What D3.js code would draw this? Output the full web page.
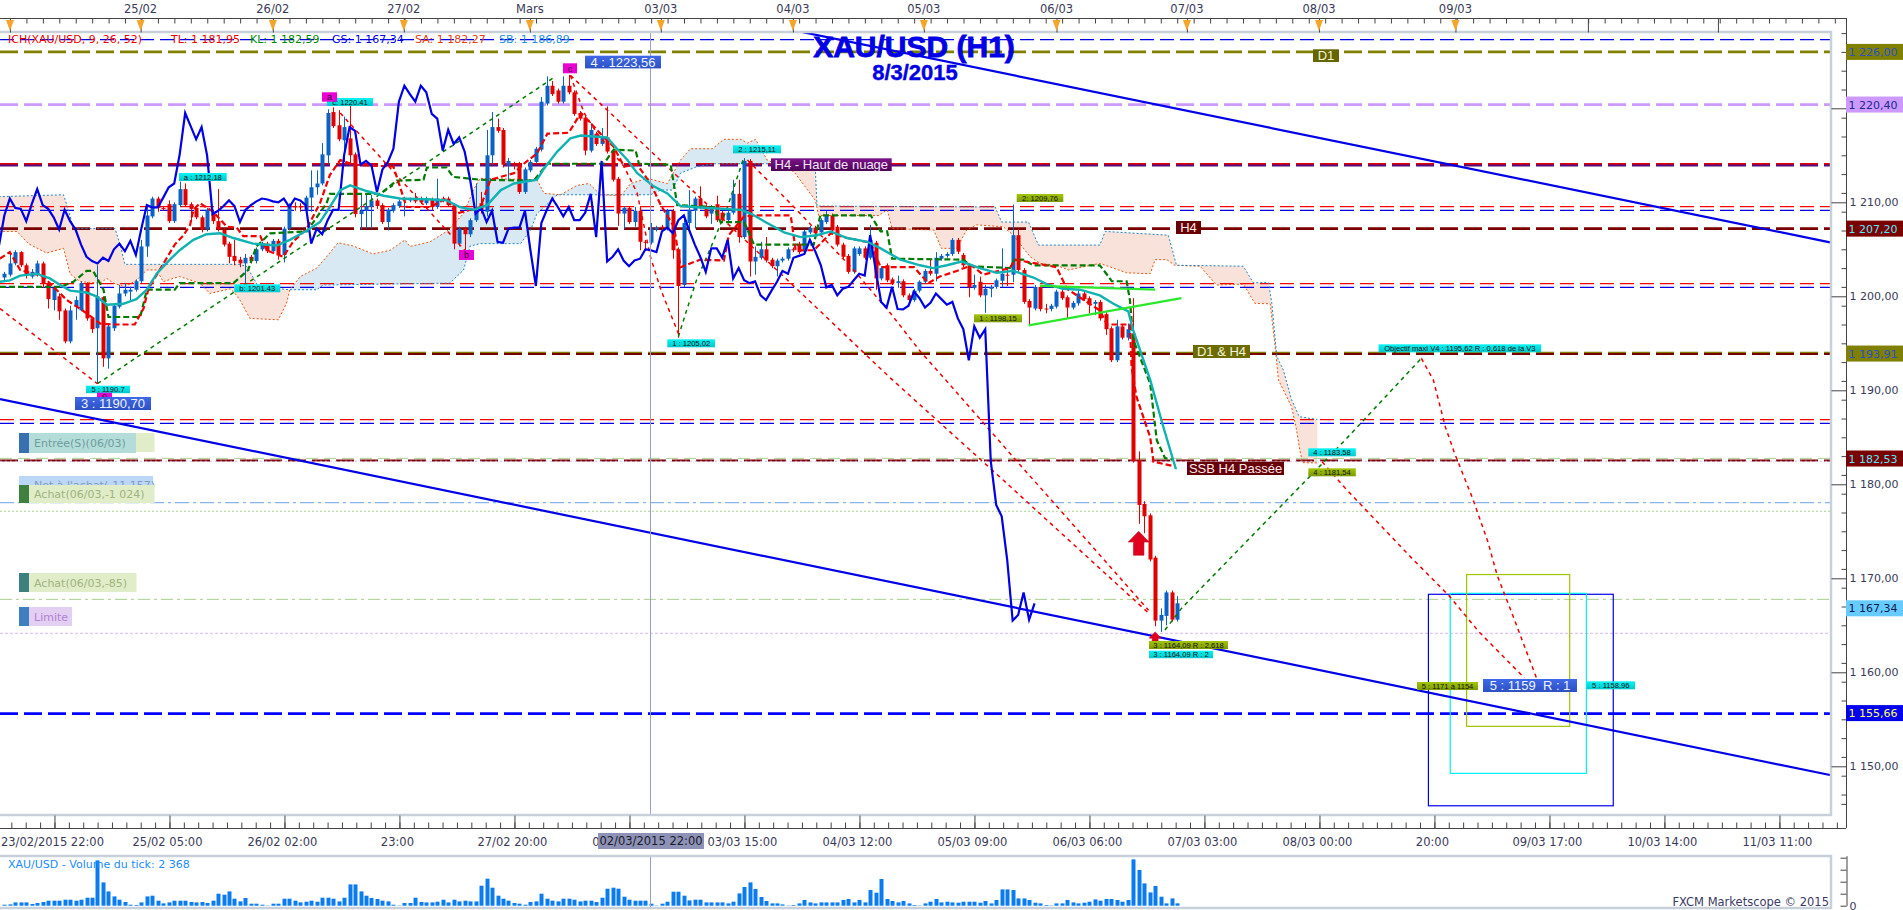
<!DOCTYPE html>
<html><head><meta charset="utf-8">
<script src="https://cdnjs.cloudflare.com/ajax/libs/d3/7.8.5/d3.min.js"></script>
<style>html,body{margin:0;padding:0;background:#fff;overflow:hidden}svg{display:block;position:absolute;left:0;top:0}</style>
</head><body><svg id="c" width="1903" height="910"></svg>
<script>
// ---------- DATA (one entry per hourly bar, index 0..214) ----------
const opens=[1202,1202.3,1203.5,1204.7,1203.3,1202.1,1202.3,1203.5,1201.4,1199.6,
1200,1198.5,1195.2,1198.9,1198.5,1201.4,1197.65,1196.6,1199.9,1193.4,
1196.6,1198.9,1200.3,1200.5,1200.7,1201.6,1205.3,1208.5,1210.4,1209.4,
1209.8,1208,1209.7,1211.4,1209.8,1209.4,1208.4,1207.1,1208.8,1208,
1207.1,1205.6,1204.3,1203.9,1203.5,1204.2,1203.75,1205,1205.6,1204.8,
1205.9,1204.4,1207.2,1209.6,1209.6,1209.1,1210.5,1211.6,1212,1215,
1219.6,1218.2,1216.6,1216.8,1215.1,1208.75,1209.1,1209.5,1210.2,1209.7,
1207.9,1209.1,1209.6,1210.2,1210.2,1210.4,1210.4,1209.9,1210.3,1209.5,
1210.4,1210.4,1209.7,1205.6,1207.2,1206.6,1208.1,1209.9,1209,1215,
1218,1217.7,1213.9,1214,1214.1,1211.1,1213.4,1214.3,1215.6,1220.5,
1222.4,1221.9,1220.7,1222.4,1221.7,1219.5,1219,1215.5,1217.3,1216.2,
1216.9,1215.5,1212.5,1208.8,1209.4,1207.9,1209.1,1205.8,1205.7,1207.1,
1207.4,1207.2,1209.1,1205,1201.2,1207.8,1209.1,1210.4,1209.5,1208.8,
1209.8,1208.9,1208.1,1208.9,1210.9,1206.3,1214.4,1203.7,1204.1,1205,
1203.9,1203.2,1203.8,1204,1205,1205.6,1204.75,1206.8,1207.3,1206.8,
1207.9,1208.6,1207.4,1205.5,1204.3,1202.6,1204.5,1205.1,1204.1,1205.7,
1201.9,1203.3,1201.8,1201.4,1201.6,1200.1,1199.6,1200.6,1201.55,1202.7,
1202.4,1204,1204.3,1204.5,1206,1204.4,1203.3,1200.9,1201.55,1200.1,
1200.8,1201,1201.65,1202.3,1202.3,1206.5,1202.8,1199.5,1198.7,1201,
1198.7,1198.65,1198.9,1200.5,1199.9,1198.8,1199.25,1200.3,1199.8,1199.2,
1199.4,1198.1,1196.6,1193.2,1196.8,1195.6,1196.05,1182.5,1177.9,1176.7,
1172.2,1165.5,1166,1168.5,1165.6];
const closes=[1202.4,1203.5,1204.7,1203.3,1202.2,1202.6,1203.5,1201.4,1199.7,1200.9,
1198.4,1195.2,1198.5,1199.6,1201.4,1197.65,1196.5,1200,1193.4,1196.8,
1199,1200.3,1200.7,1200.7,1201.6,1205.3,1208.6,1210.4,1209.4,1209.3,
1208,1209.8,1211.4,1209.7,1209.3,1208.4,1207.1,1209.2,1208,1207.1,
1205.5,1204.2,1203.75,1203.5,1204.1,1203.75,1205,1205.6,1204.8,1205.9,
1204.4,1207.2,1209.7,1209.45,1209.45,1210.5,1211.6,1212,1215.1,1219.5,
1218.1,1216.7,1218,1215,1208.75,1209.1,1209.6,1210.2,1209.6,1207.9,
1209.2,1209.7,1210.1,1210.4,1210.3,1210.1,1210,1210.4,1209.5,1210.4,
1210.2,1209.7,1205.6,1207.2,1206.6,1208.1,1209.2,1209.2,1215,1218,
1217.6,1214,1214.4,1213.9,1211.1,1213.5,1214.3,1215.7,1220.7,1222.4,
1221.5,1220.7,1222.4,1221.7,1219.4,1218.9,1215.5,1217.7,1216.2,1216.9,
1215.4,1212.4,1208.8,1209.4,1207.9,1209.1,1205.8,1205.7,1207.2,1207.3,
1207.3,1209.1,1204.9,1201.1,1207.8,1209.2,1210.4,1209.5,1208.5,1209.5,
1208.1,1208.1,1208.9,1210.9,1206.3,1214.4,1203.7,1204.2,1205,1203.8,
1203.2,1203.8,1204,1205,1204.9,1204.7,1206.9,1207.3,1206.7,1208.1,
1208.6,1207,1205.5,1204.2,1202.6,1205.1,1205.1,1204.1,1206,1201.9,
1203,1201.7,1201.4,1201.6,1200.1,1199.6,1200.6,1201.55,1202.7,1202.4,
1204.1,1204.3,1204.5,1206,1204.75,1203.3,1200.95,1201.2,1200.1,1200.8,
1201,1201.7,1202.4,1202.2,1206.5,1202.8,1199.4,1198.8,1201,1198.65,
1198.6,1199,1200.5,1199.8,1198.8,1199.3,1200.3,1199.7,1199.1,1199.4,
1197.65,1196.5,1193.2,1196.8,1195.6,1196.5,1182.5,1177.8,1176.6,1172,
1165.5,1166.1,1168.5,1165.6,1167.34];
const highs=[1202.6,1204.6,1204.9,1204.8,1203.5,1202.9,1203.8,1203.7,1201.6,1201,
1200.3,1198.7,1199,1200,1201.6,1201.5,1197.8,1203.3,1200,1197,
1199.2,1201.2,1201.4,1201,1201.8,1206,1209.5,1210.6,1210.6,1209.6,
1210.2,1210,1212.2,1212,1210,1209.6,1208.6,1209.4,1209,1211.4,
1207.3,1205.8,1206,1204.2,1204.5,1204.4,1205.2,1205.8,1205.8,1206.1,
1206.1,1207.4,1209.9,1210,1209.9,1210.7,1213.4,1213.4,1216.3,1219.9,
1220.1,1219.8,1219.1,1220.4,1215.3,1210.8,1210.9,1210.8,1210.4,1209.9,
1209.4,1209.9,1210.3,1210.6,1210.5,1211,1210.6,1210.6,1210.5,1212.5,
1210.6,1210.6,1209.9,1207.4,1207.4,1208.3,1212,1211.1,1217.7,1219.6,
1218.9,1217.9,1214.7,1214.3,1214.3,1213.7,1214.5,1215.9,1221.2,1223.4,
1222.9,1222.1,1223.4,1223.56,1221.9,1219.7,1219.2,1218.4,1217.5,1217.9,
1220.2,1215.7,1212.7,1209.6,1209.6,1209.5,1209.5,1206,1207.8,1207.5,
1207.6,1209.3,1209.3,1205.2,1208.5,1211.3,1210.6,1211.7,1209.7,1209.7,
1210.7,1209.1,1209.1,1212.4,1212.4,1214.7,1214.6,1205.3,1205.8,1206.3,
1204.1,1204,1204.2,1205.2,1205.2,1205.8,1207.1,1207.5,1207.5,1208.3,
1209.1,1208.8,1207.6,1205.7,1204.5,1205.3,1205.3,1205.3,1207.6,1205.9,
1203.2,1203.5,1202,1202.2,1201.8,1200.3,1200.8,1201.7,1202.9,1203.9,
1204.7,1204.5,1204.7,1206.2,1206.2,1204.6,1203.5,1202.3,1202.1,1201.2,
1201.2,1201.9,1205.1,1203.1,1209.76,1207.2,1203,1199.7,1201.2,1201.2,
1199.2,1199.2,1200.7,1200.7,1200.1,1199.5,1200.8,1200.5,1200,1199.6,
1199.6,1198.3,1196.8,1197.5,1197,1197.1,1199.8,1183.5,1178.2,1176.9,
1172.4,1166.8,1168.7,1168.7,1168.1];
const lows=[1201.7,1202.1,1203.3,1203.1,1201.9,1201.9,1202.1,1200.9,1198.7,1198.5,
1197.5,1195,1195,1197.5,1198.4,1197.4,1196.1,1190.7,1192.5,1192.3,
1196.3,1198.7,1200,1199.6,1200.5,1201.4,1204.2,1208.3,1209,1209.1,
1207.8,1207.8,1209.5,1209.5,1208,1208.2,1206.8,1206.9,1207.7,1206.9,
1205.3,1203.5,1203.3,1203.1,1201.4,1203.5,1203.5,1204.8,1204.6,1204.6,
1203.9,1203.6,1207,1209.1,1209,1208.9,1209,1210.8,1211.8,1214,
1217.9,1216.5,1214.3,1214.1,1208.4,1207.1,1207.2,1207.2,1209.3,1207.7,
1207,1208.9,1209.4,1208.5,1210,1209.9,1209.8,1209.7,1209.1,1209.3,
1210,1209.5,1205,1205.3,1204.9,1206.3,1207.9,1208.8,1208.5,1214,
1217.4,1213.7,1212.4,1213.5,1210.9,1210.9,1213.2,1214.1,1215.4,1220.3,
1221.3,1220.5,1220.5,1221.5,1219.2,1218.7,1215,1215.3,1216,1216,
1215.2,1212.2,1207.5,1207.2,1207.7,1207.4,1204.9,1204.9,1205.5,1206.9,
1207.1,1207,1204,1195.6,1201,1207.2,1207.2,1209.3,1208.3,1207.7,
1207.9,1207.9,1207.9,1208.7,1205.7,1206.1,1202.1,1202.3,1203.9,1203.6,
1203,1202.1,1203.6,1203.8,1204.7,1204.5,1204.5,1206.6,1206.5,1206.6,
1207.7,1206.8,1205.3,1204,1202.4,1202.4,1204.3,1203.9,1203.9,1200.7,
1201.7,1201.5,1201.2,1200.9,1199.9,1199.4,1199.4,1200.4,1201.3,1202.2,
1201.6,1203.8,1204.1,1204.3,1204.5,1203.1,1199.9,1200.7,1199.9,1198.25,
1199.9,1200.8,1201,1201.1,1201.5,1202.6,1199.2,1196.9,1198.5,1198.4,
1198.2,1198.4,1198.7,1199.6,1197.6,1198.6,1199,1199.5,1198.2,1198,
1197.4,1195.9,1193,1193,1195.4,1195.3,1182.3,1175.8,1174.8,1171.8,
1164.9,1164.3,1165,1165.4,1165.4];
const volumes=[1000,1300,3300,3300,3300,1700,2700,3700,5000,5000,
5000,6000,6000,5000,6000,8000,8000,45300,23300,14300,
9300,6000,3700,1000,700,3300,9300,10000,5000,2300,
3300,5000,5000,5000,3700,3300,3700,2700,5000,12000,
11000,14300,7000,4300,7700,2000,2000,1000,300,2000,
2000,7000,7000,5000,3300,4000,5000,4000,8000,8000,
7000,4300,8000,21300,21300,14300,10000,7700,6700,5000,
4300,1000,300,2700,2700,8000,3700,3300,3300,4000,
6000,3300,6000,4300,5000,4300,4300,20000,27000,18000,
10000,7000,5000,2700,2000,1000,3700,4300,12000,7000,
5000,4300,7000,7000,6000,4300,5000,5000,3700,8000,
17000,18000,17000,9000,6000,5000,5000,5000,2000,300,
2000,4000,14000,14000,10000,5300,6000,6000,
3300,3300,3300,3300,2300,4000,12300,18700,23300,16700,
8700,4700,2300,2300,1300,300,700,2300,5700,3300,
2300,3300,3300,3300,3300,5700,6700,3300,5700,3300,
15700,13000,26700,6700,4700,3300,4700,2300,700,300,
2300,4000,6700,3300,4000,
3300,3000,4000,4000,4000,3000,4700,2300,5700,16300,
16300,15700,7300,7300,5700,3000,2300,700,300,2300,
2300,5700,3300,2300,3000,4000,6300,5000,6700,6700,
5700,4000,5700,46300,35700,22300,13300,19700,9000,2300,7300,2368];
// lagging line: first value belongs to bar -1
const chikou=[1205.3,1208.6,1210.4,1209.4,1209.3,1208,1209.8,1211.4,1209.7,1209.3,
1208.4,1207.1,1209.2,1208,1207.1,1205.5,1204.2,1203.75,1203.5,1204.1,
1203.75,1205,1205.6,1204.8,1205.9,1204.4,1207.2,1209.7,1209.45,1209.45,
1210.5,1211.6,1212,1215.1,1219.5,1218.1,1216.7,1218,1215,1208.75,
1209.1,1209.6,1210.2,1209.6,1207.9,1209.2,1209.7,1210.1,1210.4,1210.3,
1210.1,1210,1210.4,1209.5,1210.4,1210.2,1209.7,1205.6,1207.2,1206.6,
1208.1,1209.2,1209.2,1215,1218,1217.6,1214,1214.4,1213.9,1211.1,
1213.5,1214.3,1215.7,1220.7,1222.4,1221.5,1220.7,1222.4,1221.7,1219.4,
1218.9,1215.5,1217.7,1216.2,1216.9,1215.4,1212.4,1208.8,1209.4,1207.9,
1209.1,1205.8,1205.7,1207.2,1207.3,1207.3,1209.1,1204.9,1201.1,1207.8,
1209.2,1210.4,1209.5,1208.5,1209.5,1208.1,1208.1,1208.9,1210.9,1206.3,
1214.4,1203.7,1204.2,1205,1203.8,1203.2,1203.8,1204,1205,1204.9,
1204.7,1206.9,1207.3,1206.7,1208.1,1208.6,1207,1205.5,1204.2,1202.6,
1205.1,1205.1,1204.1,1206,1201.9,1203,1201.7,1201.4,1201.6,1200.1,
1199.6,1200.6,1201.55,1202.7,1202.4,1204.1,1204.3,1204.5,1206,1204.75,
1203.3,1200.95,1201.2,1200.1,1200.8,1201,1201.7,1202.4,1202.2,1206.5,
1202.8,1199.4,1198.8,1201,1198.65,1198.6,1199,1200.5,1199.8,1198.8,
1199.3,1200.3,1199.7,1199.1,1199.4,1197.65,1196.5,1193.2,1196.8,1195.6,
1196.5,1182.5,1177.8,1176.6,1172,1165.5,1166.1,1168.5,1165.6,1167.34];
// [bar, price] series
const average=[[-0.8,1201.55],[1,1201.7],[2.9,1202.2],[5.9,1202.4],[8.3,1201.9],[10.2,1201.2],[12,1200.6],[15,1200.4],[16.8,1200],[18.7,1199.1],[21.7,1199.2],[24.1,1199.7],[26,1200.7],[27.8,1202.4],[30.2,1203.9],[32,1204.9],[34.5,1206],[36.9,1206.6],[39.4,1206.7],[41.8,1206.2],[45.4,1205.6],[49.7,1205.4],[52.1,1206],[55.2,1207],[57.6,1207.9],[59.4,1209.5],[61.3,1211.3],[63.1,1211.8],[66.1,1211.2],[69.2,1210.7],[72.2,1210.4],[78.3,1210.3],[80.7,1210.2],[83.1,1209.5],[85.6,1209.2],[88.1,1209.7],[90.6,1211.3],[93,1212],[97.2,1212.4],[98.5,1213.6],[100.9,1215.4],[103.3,1216.8],[105.2,1217.1],[110,1216.9],[111.8,1215.7],[113.7,1214.5],[115.5,1213.1],[118.5,1211.7],[121,1210.95],[123.4,1209.6],[128.3,1209.4],[134.4,1209.2],[136.2,1208.8],[139.2,1207.8],[142.3,1206.8],[145.3,1206.3],[148.3,1206.5],[150.8,1206.9],[153.8,1206.2],[157.5,1205.8],[159.9,1205.1],[163.5,1203.9],[167.1,1203.3],[169.5,1203],[172,1203.3],[174.7,1203.7],[178,1203],[181.1,1202.5],[184.1,1202.7],[187.8,1202],[190.2,1201.3],[193.2,1200.8],[196.3,1200.7],[199.9,1200.1],[202.4,1199.2],[205.1,1198.4],[206,1196.4],[209.1,1191.1],[211.5,1186.1],[213.8,1181.6]];
const tenkan=[[-0.8,1204],[1,1204.7],[2.9,1202.8],[5.3,1202.4],[7.1,1202.1],[9.5,1200.7],[11.4,1199.6],[15,1198.2],[17.5,1197.1],[19.9,1197],[23.8,1197],[25.4,1198.7],[26.3,1200.8],[31.1,1205.5],[32.7,1206.5],[33.9,1207.6],[34.5,1209.2],[35.7,1209.9],[38.1,1209],[40.6,1207.4],[42.4,1207.3],[43.6,1206.4],[46.7,1206.4],[47.9,1204.9],[50.9,1204.2],[52.7,1205.8],[55.2,1207.2],[57.6,1209.9],[59.4,1212.9],[61.3,1214.5],[63.7,1214],[71,1213.8],[73.4,1209.5],[77.7,1209.5],[80.7,1210.4],[82.5,1208.8],[86.9,1209.5],[88.7,1212.4],[93,1213.1],[94.8,1214.1],[97.2,1215.2],[99.1,1217.3],[103,1217.4],[105.2,1219.5],[108.8,1217.3],[111.2,1215.9],[113.1,1213.8],[115.5,1214],[117.9,1212],[119.8,1209.7],[122.2,1207.4],[123.4,1203.1],[127,1203.9],[131.3,1203.8],[132.2,1206.5],[135,1208.5],[137.4,1208.6],[143.5,1208.6],[144.4,1204.9],[147.7,1204.9],[150.8,1206.7],[153.8,1206.2],[158.1,1205.7],[159.9,1203.1],[166,1203.1],[168.6,1201.4],[170.7,1202.1],[173.8,1202.7],[176.5,1203.3],[178.6,1202.3],[183.5,1203],[184.4,1203.9],[192,1203.1],[193.9,1200.8],[197.5,1199.4],[199.9,1198.5],[201.2,1197],[205.4,1197],[205.7,1192.5],[206.6,1189.3],[209.1,1185],[209.7,1182.4],[213.3,1181.95]];
const kijun=[[-0.8,1201],[10.2,1201],[12.6,1201.55],[15,1202.7],[16.2,1202.7],[18.1,1200.7],[19,1197.8],[24.8,1197.8],[26,1200.7],[31.1,1200.7],[32,1201.4],[41.8,1201.4],[44.5,1202.8],[46,1205.3],[48.5,1206.7],[55.2,1206.9],[58.8,1209.9],[59.4,1210.9],[68.6,1210.9],[71.6,1212.3],[76.5,1212.4],[77.1,1213.7],[80.7,1213.7],[81.9,1212.7],[86.9,1212.4],[96.6,1212.3],[99.1,1214.1],[109.4,1214.1],[111.2,1215.6],[115.2,1215.5],[115.8,1214.1],[121.6,1214],[122.8,1209.7],[129.5,1209.5],[130.7,1207.9],[135,1207.9],[136.8,1205.5],[147.7,1205.5],[148.9,1208.6],[158.1,1208.6],[159.9,1206.9],[161.1,1206.9],[162,1204],[175,1203.9],[176.5,1203.2],[183.5,1203],[184.4,1203.9],[185.9,1203.9],[187.8,1203.3],[199.9,1203.3],[201.5,1202.1],[202.1,1201.6],[204.8,1201.6],[205.4,1199.6],[206,1195.4],[209.1,1190.7],[210.3,1184.7],[211.8,1182.8],[213.3,1182.6]];
const spanA=[[-1,1206.9],[2.3,1206.9],[4.4,1205.6],[7.7,1204.6],[10.8,1205.1],[12,1202.4],[13.8,1201.55],[17.5,1201.4],[18.7,1201.9],[19.9,1201.4],[22,1201],[24.1,1201.7],[26,1202.8],[27.8,1202.8],[29,1201.55],[30.8,1201.9],[32,1202.1],[35.7,1201.4],[37.5,1200.3],[41.2,1200.8],[42.1,1200.3],[43,1199.6],[44.8,1197.65],[50,1197.5],[51.5,1199.25],[52.1,1200.7],[54,1202.1],[57,1203],[58.8,1204.2],[60.9,1205.7],[63.7,1205.35],[67.3,1204.5],[70.4,1204.9],[73.1,1206],[74,1205.3],[77.7,1205.8],[80.7,1206.9],[83.8,1208.8],[85.6,1211.3],[86.8,1212.55],[97.2,1212.4],[98.5,1210.95],[101.5,1210.8],[104.5,1211.8],[106.7,1212],[108.8,1210.8],[112.5,1210.7],[114.3,1212],[117.3,1212.55],[121,1212],[123.4,1214.5],[125.2,1215.7],[129.2,1215.7],[131.3,1216.7],[134.4,1216.7],[135.6,1216.3],[137.1,1216.7],[139.2,1214.5],[144.1,1213.25],[148,1210.2],[148.6,1208.6],[158.1,1208.6],[159.6,1208.6],[161.1,1209.2],[162,1207.2],[169.6,1207.05],[171,1205.1],[173.8,1205.1],[175.6,1207.05],[177.4,1207.6],[182.3,1207.4],[184.1,1206.5],[187.2,1204.2],[189,1203.5],[192,1203.3],[194.2,1202.8],[199.9,1203.5],[204.8,1202.5],[209.1,1202.4],[210,1203.9],[212.1,1203.9],[213.6,1203.3],[218.2,1203.2],[221.2,1201.2],[226.1,1201.3],[228.2,1199.25],[231,1199.2],[231.9,1194.6],[232.5,1191.1],[234.9,1188.25],[235.8,1185.8],[236.4,1183.65],[236.9,1182.3],[239.6,1182.27]];
const spanB=[[-1,1210.6],[10.8,1210.8],[11.7,1209.2],[12.6,1207.2],[20.2,1207.2],[21.1,1205.6],[22,1203.4],[42.7,1203.4],[44.2,1203.2],[46.4,1201],[52.1,1200.7],[57,1200.7],[58.2,1201.2],[81.3,1201.4],[83.8,1202.8],[85,1205.35],[86.8,1205.6],[94.2,1205.6],[96,1207],[97.2,1208.8],[98.5,1209.5],[100.9,1210.8],[117.9,1210.8],[119.8,1211.3],[121.9,1211.3],[123.4,1213.1],[126.4,1213.8],[129.5,1214.1],[144.1,1214.1],[148,1213.4],[148.3,1209.6],[180.8,1209.5],[182,1207.9],[186.9,1207.9],[188.7,1205.45],[199.9,1205.45],[200.9,1206.9],[212.4,1206.5],[213.9,1203.3],[226.1,1203.2],[227.9,1201.45],[230.7,1201.45],[231.3,1199.25],[232.2,1193.6],[233.4,1192.15],[234.9,1189],[236.3,1187.2],[239.6,1186.89]];
const greenWaves=[
 [[17,1190.7],[100.6,1223.4]],
 [[123,1195.7],[124.5,1198.5],[126.3,1201.7],[128.7,1204.9],[131.8,1209.2],[134.8,1214.5]],
 [[211.8,1164.5],[214.8,1166.8],[238,1180.7],[244.66,1184.7],[258.58,1193.4]]];
const redWaves=[
 [[-0.8,1198.7],[17,1190.7]],
 [[61.3,1219.5],[84,1204.9]],
 [[103.3,1223.5],[105.8,1219.5],[108.2,1217.3],[113.1,1213.8],[115.5,1210.95],[117.9,1204.2],[119.8,1200.7],[123.1,1195.9]],
 [[103.3,1223.5],[143.5,1201.4],[161.7,1191.3],[182,1180.6],[208.8,1166.3]],
 [[135.6,1214.5],[144.1,1209.5],[155,1202.8],[161.7,1198.2],[167.2,1194.1],[171.5,1191.3],[183.5,1183.3],[208.8,1166.6]],
 [[240.47,1182.4],[244.66,1179.6],[256.9,1172.1],[263.55,1168.2],[269.1,1164.3],[277.39,1159.4]],
 [[258.58,1193.4],[260.77,1191.1],[262.96,1186.1],[264.65,1183.3],[267.93,1178.5],[270.72,1173.9],[272.4,1170.35],[275.7,1165.4],[279.58,1159.4]]];
const channelLines=[[[-0.8,1189.07],[333.15,1149.07]],[[145.7,1228.1],[333.15,1205.74]]];
const limeLines=[[[186.9,1196.9],[214.8,1199.8]],[[189,1201.1],[210,1200.7]]];
const boxes=[[259.87,293.6,1168.3,1145.8],[263.85,288.7,1168.4,1149.25],[266.84,285.65,1170.4,1154.25]];
const arrowBars=[207,210], arrowPrices=[1175,1164.3];
const levelPrices=[1227.3,1226,1220.4,1213.98,1214.1,1209.53,1209.14,1207.2,1201.34,1200.95,1193.96,1193.86,1186.87,1186.48,1182.53,1182.76,1182.45,1178.05,1177.13,1167.76,1164.15,1155.6];
const priceTicks=[1150,1160,1170,1180,1190,1200,1210,1220];
const priceLabels=["1 150,00","1 160,00","1 170,00","1 180,00","1 190,00","1 200,00","1 210,00",""];
const priceMinorTicks=[1146,1147,1149,1151,1153,1155,1157,1159,1161,1163,1165,1167,1169,1171,1173,1175,1177,1179,1181,1183,1185,1187,1189,1191,1193,1195,1197,1199,1201,1203,1205,1207,1209,1211,1213,1215,1217,1219,1222,1224,1226,1228];
const dayBars=[1.03,24.87,49,72.9,95.9,119.8,143.9,167.8,192,215.8,239.9,264.8,288.97,312.7];
const dayLabels=["","25/02","26/02","27/02","Mars","03/03","04/03","05/03","06/03","07/03","08/03","09/03","",""];
const timeBars=[9.15,30.14,51.12,72.1,93.09,114.08,135.06,156.05,177.03,198.02,219,239.99,260.97,281.96,302.94,323.93];
const timeLabels=["23/02/2015 22:00","25/02 05:00","26/02 02:00","23:00","27/02 20:00","0","03/03 15:00","04/03 12:00","05/03 09:00","06/03 06:00","07/03 03:00","08/03 00:00","20:00","09/03 17:00","10/03 14:00","11/03 11:00"];
const legendTexts=["ICH(XAU/USD, 9, 26, 52)","TL: 1 181,95","KL: 1 182,59","GS: 1 167,34","SA: 1 182,27","SB: 1 186,89"];

// ---------- SCALES ----------
const svg=d3.select("#c");
const x=d3.scaleLinear().domain([0,214]).range([4.33,1177.05]);
const y=d3.scaleLinear().domain([1210,1150]).range([202.3,766.3]);
const vy=d3.scaleLinear().domain([0,50000]).range([905.7,855.7]);
const FW=1831,AX=1846;
const defs=svg.append("defs");
defs.append("clipPath").attr("id","plot").append("rect").attr("x",0).attr("y",32).attr("width",FW).attr("height",783);
[["gCyan","#08f4f4","#00c8cc"],["gGrn","#a4c608","#7c9a00"],["gRoy","#4069e8","#2c50c4"],["gDk","#7a1488","#4e0458"]].forEach(a=>{
 const lg=defs.append("linearGradient").attr("id",a[0]).attr("x1",0).attr("x2",0).attr("y1",0).attr("y2",1);
 lg.append("stop").attr("offset","0").attr("stop-color",a[1]);
 lg.append("stop").attr("offset","1").attr("stop-color",a[2]);
});
const g=svg.append("g").attr("clip-path","url(#plot)");
const line=d3.line().x(d=>x(d[0])).y(d=>y(d[1]));

// ---------- CLOUD ----------
const aAt=d3.scaleLinear().domain(spanA.map(d=>d[0])).range(spanA.map(d=>d[1]));
const bAt=d3.scaleLinear().domain(spanB.map(d=>d[0])).range(spanB.map(d=>d[1]));
const steps=d3.range(-1,239.61,0.2);
g.append("path").datum(steps).attr("fill","#d9e9f3")
 .attr("d",d3.area().x(d=>x(d)).y0(d=>y(aAt(d))).y1(d=>y(Math.min(aAt(d),bAt(d)))));
g.append("path").datum(steps).attr("fill","#f8e2da")
 .attr("d",d3.area().x(d=>x(d)).y0(d=>y(aAt(d))).y1(d=>y(Math.max(aAt(d),bAt(d)))));

// ---------- LEVELS ----------
const levelStyles=[["#0000e6",1.3,"14 6"],["#808000",2.8,"18 6"],["#cc99ff",2.8,"18 6"],["#5a0a80",3.2,"18 6"],["#e00000",1.3,"18 6"],["#ff0000",1.2,"14 6"],["#0000e6",1.2,"14 6"],["#7a0000",2.8,"18 6"],["#ff0000",1.2,"14 6"],["#0000e6",1.2,"14 6"],["#808000",2.6,"18 6"],["#7a0000",2.2,"18 6"],["#ff0000",1.2,"14 6"],["#0000e6",1.2,"14 6"],["#7a0000",2.2,"18 6"],["#a8d08d",1,"12 6"],["#d8b8ee",1,"2 3"],["#88b4f0",1.2,"14 4 3 4"],["#a8d08d",1,"2 2"],["#a8d08d",1,"12 4 3 4"],["#d8b8ee",1,"3 2"],["#0000ff",2.8,"18 6"]];
g.selectAll("line.lv").data(levelPrices).join("line").attr("class","lv")
 .attr("x1",0).attr("x2",FW).attr("y1",d=>y(d)).attr("y2",d=>y(d))
 .attr("stroke",(d,i)=>levelStyles[i][0]).attr("stroke-width",(d,i)=>levelStyles[i][1]).attr("stroke-dasharray",(d,i)=>levelStyles[i][2]);

// ---------- CLOUD EDGES ----------
g.append("path").datum(spanA).attr("d",line).attr("fill","none").attr("stroke","#e8560f").attr("stroke-width",1).attr("stroke-dasharray","2 2");
g.append("path").datum(spanB).attr("d",line).attr("fill","none").attr("stroke","#1f86c4").attr("stroke-width",1).attr("stroke-dasharray","2 2");

// ---------- BOXES ----------
const boxColors=["#0000f0","#00f0f8","#a0c400"];
g.selectAll("rect.box").data(boxes).join("rect").attr("class","box")
 .attr("x",d=>x(d[0])).attr("width",d=>x(d[1])-x(d[0])).attr("y",d=>y(d[2])).attr("height",d=>y(d[3])-y(d[2]))
 .attr("fill","none").attr("stroke",(d,i)=>boxColors[i]).attr("stroke-width",1.2);

// ---------- CANDLES ----------
const idx=d3.range(opens.length);
const cCol=i=>closes[i]>=opens[i]?"#0a62c6":"#e00000";
g.selectAll("line.w").data(idx).join("line").attr("class","w")
 .attr("x1",i=>Math.round(x(i))+.5).attr("x2",i=>Math.round(x(i))+.5).attr("y1",i=>y(highs[i])).attr("y2",i=>y(lows[i]))
 .attr("stroke",cCol).attr("stroke-width",1);
g.selectAll("rect.b").data(idx).join("rect").attr("class","b")
 .attr("x",i=>Math.round(x(i))-1.5).attr("width",4)
 .attr("y",i=>y(Math.max(opens[i],closes[i])))
 .attr("height",i=>Math.max(1,Math.abs(y(opens[i])-y(closes[i]))))
 .attr("fill",cCol);

// ---------- WAVES ----------
greenWaves.forEach(w=>g.append("path").datum(w).attr("d",line).attr("fill","none").attr("stroke","#007a00").attr("stroke-width",1.5).attr("stroke-dasharray","4 4"));
redWaves.forEach(w=>g.append("path").datum(w).attr("d",line).attr("fill","none").attr("stroke","#f00000").attr("stroke-width",1.5).attr("stroke-dasharray","4 4"));

// ---------- INDICATOR LINES ----------
const chikouPts=chikou.map((p,i)=>[i-1,p]);
g.append("path").datum(kijun).attr("d",line).attr("fill","none").attr("stroke","#007a00").attr("stroke-width",2.2).attr("stroke-dasharray","6 3");
g.append("path").datum(tenkan).attr("d",line).attr("fill","none").attr("stroke","#f00000").attr("stroke-width",2.2).attr("stroke-dasharray","6 3");
g.append("path").datum(chikouPts).attr("d",line).attr("fill","none").attr("stroke","#0000e6").attr("stroke-width",2.2);
g.append("path").datum(average).attr("d",line).attr("fill","none").attr("stroke","#10b2b2").attr("stroke-width",2.4);
limeLines.forEach(w=>g.append("path").datum(w).attr("d",line).attr("fill","none").attr("stroke","#2ce82c").attr("stroke-width",2.2));
channelLines.forEach(w=>g.append("path").datum(w).attr("d",line).attr("fill","none").attr("stroke","#0000e6").attr("stroke-width",2.2));

// ---------- ARROWS ----------
const arrowSizes=[[21,24],[12,14]];
arrowBars.forEach((b,i)=>{
 const cx=x(b),ty=y(arrowPrices[i]),[w,h]=arrowSizes[i];
 g.append("path").attr("fill","#e0001e").attr("stroke","#b80018").attr("stroke-width",.5)
  .attr("d",`M${cx},${ty}L${cx+w/2},${ty+h*.45}L${cx+w/4},${ty+h*.45}L${cx+w/4},${ty+h}L${cx-w/4},${ty+h}L${cx-w/4},${ty+h*.45}L${cx-w/2},${ty+h*.45}Z`);
});

// ---------- CROSSHAIR ----------
svg.append("line").attr("x1",650.5).attr("x2",650.5).attr("y1",32).attr("y2",815).attr("stroke","#9aa0c2").attr("stroke-width",1);

// ---------- FRAMES ----------
const frame="#c8d1d9";
svg.append("path").attr("d",`M0,32H${FW}V815H0`).attr("fill","none").attr("stroke",frame).attr("stroke-width",2.5);
svg.append("path").attr("d",`M0,856H${FW}V908H0`).attr("fill","none").attr("stroke",frame).attr("stroke-width",2.5);

// ---------- TOP AXIS ----------
const FONT="'DejaVu Sans',sans-serif",AXC="#3a3a58";
function axisClean(a){a.select(".domain").attr("stroke","#444");a.selectAll("line").attr("stroke","#444");a.selectAll("text").attr("font-family",FONT).attr("fill",AXC);}
const topMinor=svg.append("g").attr("transform","translate(0,18.5)").call(d3.axisBottom(x).tickValues(d3.range(1.03,335,3)).tickSize(5).tickFormat("").tickSizeOuter(0));
axisClean(topMinor); topMinor.select(".domain").attr("d",`M0,0H${AX}`);
const topMajor=svg.append("g").attr("transform","translate(0,18.5)").call(d3.axisBottom(x).tickValues(dayBars).tickSize(14).tickFormat("").tickSizeOuter(0));
axisClean(topMajor); topMajor.select(".domain").remove();
svg.selectAll("text.day").data(dayBars).join("text").attr("class","day").attr("x",d=>x(d)).attr("y",13)
 .attr("text-anchor","middle").attr("font-family",FONT).attr("font-size","11.5px").attr("fill",AXC).text((d,i)=>dayLabels[i]);
svg.selectAll("path.mk").data(dayBars.slice(0,12)).join("path").attr("class","mk")
 .attr("d",d=>`M${x(d)-4},20L${x(d)+4},20L${x(d)},31Z`).attr("fill","#f5a52a");

// ---------- TITLE + LEGEND ----------
svg.append("text").attr("x",914).attr("y",57).attr("text-anchor","middle").attr("font-family","'Liberation Sans',Arial,sans-serif").attr("font-weight","bold").attr("font-size","30px").attr("fill","#0000e6").attr("stroke","#0000e6").attr("stroke-width",.8).text("XAU/USD (H1)");
svg.append("text").attr("x",915).attr("y",80).attr("text-anchor","middle").attr("font-family","'Liberation Sans',Arial,sans-serif").attr("font-weight","bold").attr("font-size","22px").attr("fill","#0000e6").attr("stroke","#0000e6").attr("stroke-width",.4).text("8/3/2015");
const legendX=[8,171,250,332,415,499],legendC=["#f00000","#f00000","#008a00","#0000e6","#e8420f","#1f8fe0"];
svg.selectAll("text.lg").data(legendTexts).join("text").attr("class","lg").attr("x",(d,i)=>legendX[i]).attr("y",43)
 .attr("font-family",FONT).attr("font-size","11px").attr("fill",(d,i)=>legendC[i]).text(d=>d);

// ---------- PRICE AXIS ----------
const paMinor=svg.append("g").attr("transform",`translate(${AX+.5},0)`).call(d3.axisRight(y).tickValues(priceMinorTicks).tickSize(-5).tickFormat("").tickSizeOuter(0));
axisClean(paMinor); paMinor.select(".domain").attr("d","M0,18V828");
const paMajor=svg.append("g").attr("transform",`translate(${AX+.5},0)`).call(d3.axisRight(y).tickValues(priceTicks).tickSizeInner(-15).tickSizeOuter(0).tickPadding(3).tickFormat((d,i)=>priceLabels[i]));
axisClean(paMajor); paMajor.select(".domain").remove();
paMajor.selectAll("text").attr("font-size","11px");
const badgeP=[1226,1220.4,1207.2,1193.91,1182.53,1167.34,1155.66],badgeT=["1 226,00","1 220,40","1 207,20","1 193,91","1 182,53","1 167,34","1 155,66"];
const badgeBg=["#808000","#cc99ff","#7a0000","#808000","#7a0000","#66ccff","#0000ee"],badgeFg=["#2a50d0","#1a2a90","#55e8ff","#2a50d0","#55e8ff","#111a50","#ffff66"];
const badgeDy=[0,0,0,0,-2,5,0];
const bg=svg.selectAll("g.bd").data(badgeP).join("g").attr("class","bd").attr("transform",(d,i)=>`translate(${AX},${y(d)+badgeDy[i]})`);
bg.append("rect").attr("x",0).attr("y",-8).attr("width",57).attr("height",16).attr("fill",(d,i)=>badgeBg[i]);
bg.append("text").attr("x",2.5).attr("y",4).attr("font-family",FONT).attr("font-size","11px").attr("fill",(d,i)=>badgeFg[i]).text((d,i)=>badgeT[i]);

// ---------- TIME AXIS ----------
const taMinor=svg.append("g").attr("transform","translate(0,828.5)").call(d3.axisTop(x).tickValues(d3.range(9.15-2.623*3,336,2.623)).tickSize(6).tickFormat("").tickSizeOuter(0));
axisClean(taMinor); taMinor.select(".domain").attr("d",`M0,0H${AX}`);
const taMajor=svg.append("g").attr("transform","translate(0,828.5)").call(d3.axisTop(x).tickValues(timeBars).tickSize(13).tickFormat("").tickSizeOuter(0));
axisClean(taMajor); taMajor.select(".domain").remove();
svg.selectAll("text.tm").data(timeBars).join("text").attr("class","tm").attr("x",d=>x(d)-2).attr("y",846)
 .attr("text-anchor","middle").attr("font-family",FONT).attr("font-size","11.5px").attr("fill",AXC).text((d,i)=>timeLabels[i]);
svg.selectAll("text.tm").filter((d,i)=>i===5).attr("x",596);
svg.append("rect").attr("x",598).attr("y",833).attr("width",106).attr("height",16).attr("fill","#8e92b6");
svg.append("text").attr("x",651).attr("y",845).attr("text-anchor","middle").attr("font-family",FONT).attr("font-size","11.5px").attr("fill","#1a1a2a").text("02/03/2015 22:00");

// ---------- VOLUME ----------
svg.selectAll("rect.v").data(volumes).join("rect").attr("class","v")
 .attr("x",(d,i)=>Math.round(x(i))-1.5).attr("width",4).attr("y",d=>vy(d)).attr("height",d=>vy(0)-vy(d)).attr("fill","#0a7cf0");
svg.append("line").attr("x1",650.5).attr("x2",650.5).attr("y1",857).attr("y2",907).attr("stroke","#9aa0c2");
svg.append("text").attr("x",8).attr("y",868).attr("font-family",FONT).attr("font-size","11px").attr("fill","#1a8cff").text("XAU/USD - Volume du tick: 2 368");
svg.append("text").attr("x",1829).attr("y",906).attr("text-anchor","end").attr("font-family",FONT).attr("font-size","11.5px").attr("fill","#3a3a68").text("FXCM Marketscope © 2015");
const va=svg.append("g").attr("transform",`translate(${AX+.5},0)`).call(d3.axisRight(vy).tickValues([0,12000,24000,36000,48000]).tickSizeInner(-6).tickSizeOuter(0).tickPadding(3).tickFormat(d=>d===0?"0":""));
axisClean(va); va.selectAll("text").attr("font-size","11px");

// ---------- ANNOTATIONS ----------
const sans="'Liberation Sans',Arial,sans-serif";
function tag(t,x0,y0,w,h,bgc,fg,fs){
 svg.append("rect").attr("x",x0).attr("y",y0).attr("width",w).attr("height",h).attr("fill",bgc);
 svg.append("text").attr("x",x0+w/2).attr("y",y0+h/2+fs*.36).attr("text-anchor","middle").attr("font-family",sans).attr("font-size",fs+"px").attr("fill",fg).text(t);
}
const cyan="url(#gCyan)",grn="url(#gGrn)",mag="#e800d4",roy="url(#gRoy)";
[["a : 1212.18",179,173,47.7,8],["5 : 1190.7",86,385.7,44,7.5],["b: 1201.43",234.3,284.3,46,8],["c: 1220.41",327,98,46,8],["1 : 1205,02",667.3,339.3,47.7,8],["2 : 1215,11",733,145.3,48,8],["Objectif maxi V4 : 1195,62 R : 0,618 de la V3",1378.6,344.3,162.5,8],["4 : 1183,58",1308.3,448.3,47.5,8],["3 : 1164,09 R : 2",1149,650.7,64,7.5],["5 : 1158,96",1586.7,681.3,48.3,8]]
 .forEach(a=>tag(a[0],a[1],a[2],a[3],a[4],cyan,"#111",7.6));
[["2: 1209,76",1016.7,194,46.6,8],["1 : 1198,15",974,314.3,48,8],["4 : 1181,54",1308.3,468.3,47.5,8],["3 : 1164,09 R : 2,618",1149,641,79,8],["5 : 1171 à 1154",1417,682,61,8]]
 .forEach(a=>tag(a[0],a[1],a[2],a[3],a[4],grn,"#111",7.6));
[["a",322,92.3,15,9.4],["b",459,250,15,10],["c",563,63.3,14,10],["9",97,392.7,15,8.3]]
 .forEach(a=>tag(a[0],a[1],a[2],a[3],a[4],mag,"#330033",9));
[["3 : 1190,70",75,397,76,13],["4 : 1223,56",585,55.7,76,12.7],["5 : 1159\u00A0\u00A0R : 1",1483,679,94,13]]
 .forEach(a=>tag(a[0],a[1],a[2],a[3],a[4],roy,"#eef4ff",13));
tag("H4 - Haut de nuage",771,158.3,120.7,12.7,"url(#gDk)","#f2e6f5",13);
tag("D1",1313,49.3,26,12.7,"#666600","#f4f4d8",13);
tag("H4",1176,221,25,13,"#660000","#fbeaea",13);
tag("D1 & H4",1193,345,57,13,"#6b6b00","#f4f4d8",13);
tag("SSB H4 Passée",1187,461.7,97,13.3,"#660008","#fbeaea",13);

// trade flags on the left edge
function flag(t,x0,y0,w,h,bgc,block,fg){
 svg.append("rect").attr("x",x0).attr("y",y0).attr("width",w).attr("height",h).attr("fill",bgc);
 svg.append("rect").attr("x",x0).attr("y",y0).attr("width",10).attr("height",h).attr("fill",block);
 svg.append("text").attr("x",x0+15).attr("y",y0+h/2+4).attr("font-family",FONT).attr("font-size","11px").attr("fill",fg).text(t);
}
flag("Achat(06/03,-3)",19,433,135.5,19,"#e1ecc9","#3a6fb0","#9fb47e");
flag("Entrée(S)(06/03)",19,433,117,20,"#b4dcd8","#3a6fb0","#6f9da0");
flag("Net à l'achat(-11,157)",19,476,134,18,"#bcd6f6","#bcd6f6","#7f9cc4");
flag("Achat(06/03,-1 024)",19,485,135.5,18,"#e1ecc9","#3f7f3f","#9fb47e");
flag("Achat(06/03,-85)",19,573,117.5,19,"#e1ecc9","#3e7f80","#9fb47e");
flag("Limite",19,607,53,19,"#e3cff2","#3f7fbf","#b381d3");
</script></body></html>
